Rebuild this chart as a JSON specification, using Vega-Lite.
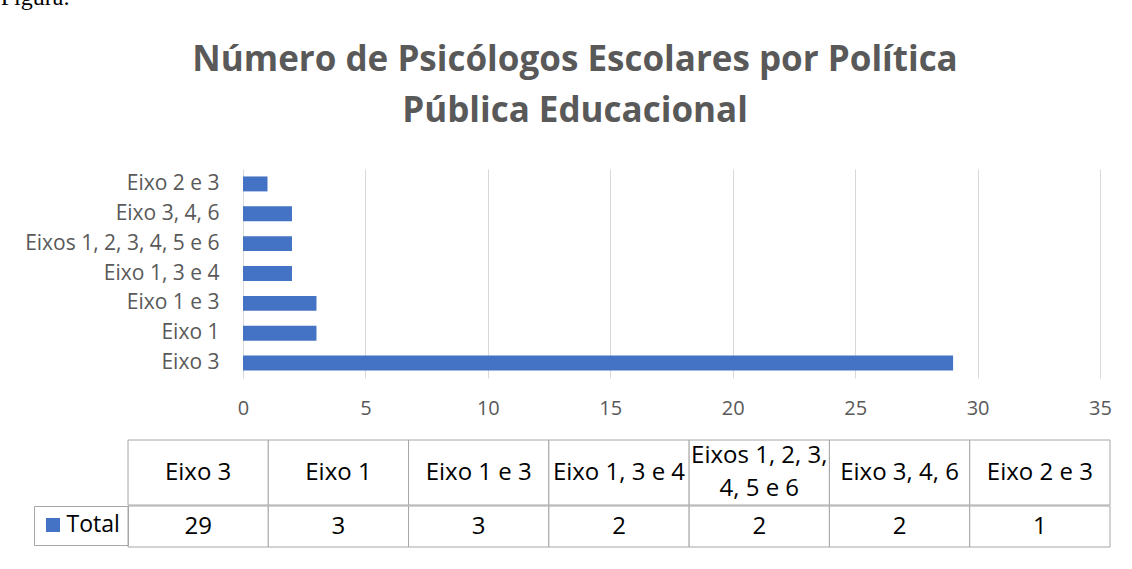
{
  "$schema": "https://vega.github.io/schema/vega-lite/v6.json",
  "background": "white",
  "padding": {"left": 0, "top": -14, "right": 0, "bottom": 0},
  "title": {"text": "Figura:", "anchor": "start", "frame": "bounds", "dx": -24, "font": "Liberation Serif", "fontSize": 24, "fontWeight": "normal", "color": "#000000", "offset": 33},
  "config": {"view": {"stroke": null}},
  "datasets": {
    "politicas": [
      {"categoria": "Eixo 3", "ordem": 1, "cabecalho": "Eixo 3", "serie": "Total", "total": 29},
      {"categoria": "Eixo 1", "ordem": 2, "cabecalho": "Eixo 1", "serie": "Total", "total": 3},
      {"categoria": "Eixo 1 e 3", "ordem": 3, "cabecalho": "Eixo 1 e 3", "serie": "Total", "total": 3},
      {"categoria": "Eixo 1, 3 e 4", "ordem": 4, "cabecalho": "Eixo 1, 3 e 4", "serie": "Total", "total": 2},
      {"categoria": "Eixos 1, 2, 3, 4, 5 e 6", "ordem": 5, "cabecalho": "Eixos 1, 2, 3,\n4, 5 e 6", "serie": "Total", "total": 2},
      {"categoria": "Eixo 3, 4, 6", "ordem": 6, "cabecalho": "Eixo 3, 4, 6", "serie": "Total", "total": 2},
      {"categoria": "Eixo 2 e 3", "ordem": 7, "cabecalho": "Eixo 2 e 3", "serie": "Total", "total": 1}
    ]
  },
  "resolve": {"scale": {"color": "independent"}, "legend": {"color": "independent"}},
  "spacing": 21,
  "vconcat": [
    {
      "data": {"name": "politicas"},
      "width": 982,
      "height": 209,
      "title": {
        "text": ["Número de Psicólogos Escolares por Política", "Pública Educacional"],
        "font": "Open Sans", "fontSize": 35, "fontWeight": "bold", "color": "#595959",
        "lineHeight": 51, "offset": 40, "anchor": "middle", "frame": "bounds", "dx": 7
      },
      "mark": {"type": "bar", "color": "#4472C4"},
      "encoding": {
        "y": {
          "field": "categoria", "type": "nominal",
          "sort": {"field": "ordem", "order": "descending"},
          "scale": {"paddingInner": 0.5, "paddingOuter": 0.25},
          "axis": {"title": null, "domain": false, "ticks": false, "offset": -115, "labelPadding": 24, "labelLimit": 0, "labelFont": "Open Sans", "labelFontSize": 21, "labelColor": "#595959"}
        },
        "x": {
          "field": "total", "type": "quantitative",
          "scale": {"domain": [-4.697, 35.408], "nice": false, "zero": false},
          "axis": {"title": null, "values": [0, 5, 10, 15, 20, 25, 30, 35], "grid": true, "gridColor": "#d9d9d9", "domain": false, "ticks": false, "labelFlush": false, "labelPadding": 20, "labelFont": "Open Sans", "labelFontSize": 20, "labelColor": "#595959"}
        }
      }
    },
    {
      "spacing": -1,
      "resolve": {"scale": {"color": "independent"}, "legend": {"color": "independent"}},
      "vconcat": [
        {
          "data": {"name": "politicas"},
          "width": 982,
          "height": 65,
          "encoding": {
            "x": {"field": "categoria", "type": "nominal", "sort": {"field": "ordem", "order": "ascending"}, "scale": {"paddingInner": 0, "paddingOuter": 0}, "axis": null}
          },
          "layer": [
            {"mark": {"type": "rect", "fill": "white", "stroke": "#a6a6a6", "strokeWidth": 1}},
            {
              "transform": [{"filter": "indexof(datum.cabecalho, '\\n') < 0"}],
              "mark": {"type": "text", "font": "Open Sans", "fontSize": 24, "color": "#000000"},
              "encoding": {"text": {"field": "cabecalho"}}
            },
            {
              "transform": [{"filter": "indexof(datum.cabecalho, '\\n') >= 0"}],
              "mark": {"type": "text", "font": "Open Sans", "fontSize": 24, "color": "#000000", "lineBreak": "\n", "lineHeight": 33, "dy": -16.5},
              "encoding": {"text": {"field": "cabecalho"}}
            }
          ]
        },
        {
          "data": {"name": "politicas"},
          "width": 982,
          "height": 41,
          "encoding": {
            "x": {"field": "categoria", "type": "nominal", "sort": {"field": "ordem", "order": "ascending"}, "scale": {"paddingInner": 0, "paddingOuter": 0}, "axis": null}
          },
          "layer": [
            {"mark": {"type": "rect", "fill": "white", "stroke": "#a6a6a6", "strokeWidth": 1}},
            {"mark": {"type": "text", "font": "Open Sans", "fontSize": 24, "color": "#000000"}, "encoding": {"text": {"field": "total", "type": "quantitative"}}},
            {
              "mark": {"type": "text", "text": ""},
              "encoding": {
                "color": {
                  "field": "serie", "type": "nominal",
                  "scale": {"range": ["#4472C4"]},
                  "legend": {
                    "orient": "left", "title": null, "offset": 0, "padding": 7.5,
                    "symbolType": "square", "symbolSize": 196, "labelOffset": 2,
                    "labelFont": "Open Sans", "labelFontSize": 23, "labelColor": "#000000",
                    "strokeColor": "#a6a6a6"
                  }
                }
              }
            }
          ]
        }
      ]
    }
  ]
}
